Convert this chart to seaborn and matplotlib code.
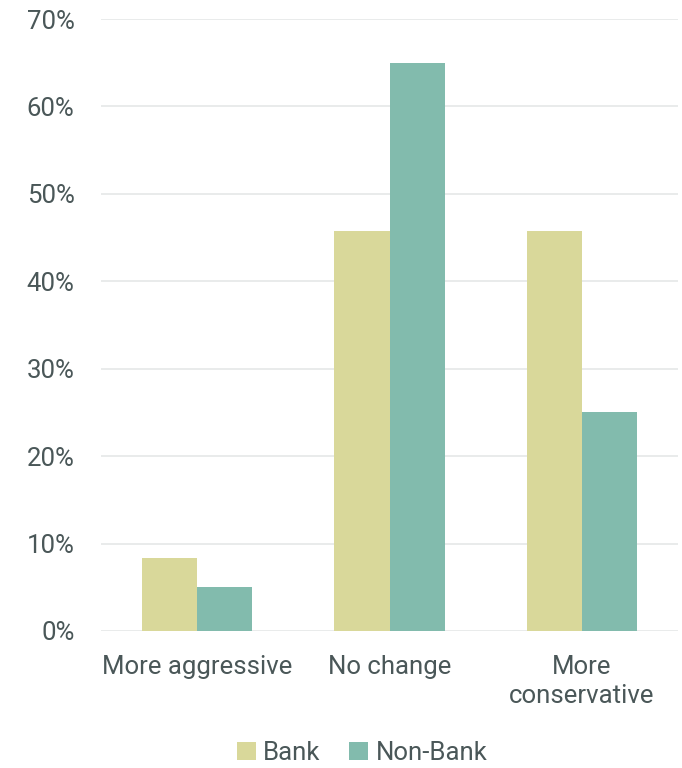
import matplotlib
matplotlib.use("Agg")
import matplotlib.pyplot as plt
import seaborn as sns
import pandas as pd

categories = ["More aggressive", "No change", "More\nconservative"]
series = ["Bank", "Non-Bank"]
bank_values = [8.3, 45.8, 45.8]
nonbank_values = [5.0, 65.0, 25.0]
y_ticks = [0, 10, 20, 30, 40, 50, 60, 70]

df = pd.DataFrame({
    "category": categories * 2,
    "group": [series[0]] * 3 + [series[1]] * 3,
    "value": bank_values + nonbank_values,
})

sns.set_theme(style="white")
plt.rcParams["font.family"] = ["Roboto", "DejaVu Sans"]

text_color = "#4a5758"
palette = {"Bank": "#d9d89a", "Non-Bank": "#82bbad"}
fs = 18.5

fig = plt.figure(figsize=(6.82, 7.68), dpi=100)
ax = fig.add_axes([101 / 682, 1 - 631 / 768, 577 / 682, 612 / 768])

sns.barplot(data=df, x="category", y="value", hue="group", palette=palette,
            width=0.575, gap=0, saturation=1, linewidth=0, ax=ax, zorder=3)

ax.set_ylim(0, 70)
ax.set_xlim(-0.5, 2.5)
ax.set_yticks(y_ticks)
ax.set_yticklabels([f"{t}%" for t in y_ticks])
ax.yaxis.grid(True, color="#e5e8e8", linewidth=1.2, zorder=0)
ax.set_axisbelow(True)
for s in ax.spines.values():
    s.set_visible(False)
ax.tick_params(axis="y", length=0, pad=19, labelsize=fs, labelcolor=text_color)
ax.tick_params(axis="x", length=0, pad=17, labelsize=fs, labelcolor=text_color)
for lbl in ax.get_xticklabels():
    lbl.set_linespacing(1.3)
ax.set_xlabel("")
ax.set_ylabel("")

handles, labels = ax.get_legend_handles_labels()
ax.legend_.remove()
fig.legend(handles, labels, loc="center", bbox_to_anchor=(362 / 682, 1 - 753 / 768),
           ncol=2, frameon=False, fontsize=fs, labelcolor=text_color,
           handlelength=0.75, handleheight=0.75, handletextpad=0.28, columnspacing=1.1)

fig.savefig("out.png", dpi=100)
